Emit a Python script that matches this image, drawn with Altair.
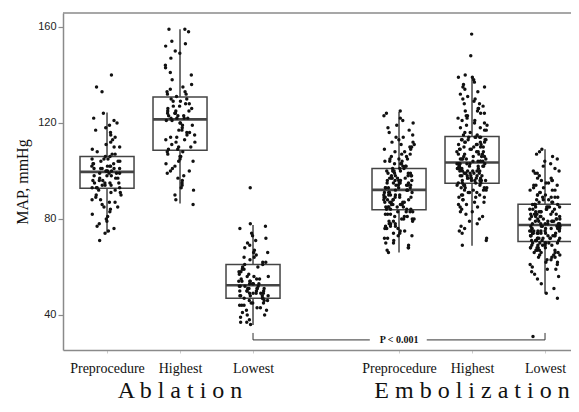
import altair as alt
import pandas as pd

# ---------------- data ----------------
group_keys = ["A_pre", "A_high", "A_low", "E_pre", "E_high", "E_low"]
group_labels = ["Preprocedure", "Highest", "Lowest", "Preprocedure", "Highest", "Lowest"]
x_pos = [1, 2, 3, 5, 6, 7]

procedure_titles = ["Ablation", "Embolization"]
procedure_pos = [2, 6]

q1 = [92.8, 108.6, 47.0, 83.8, 94.9, 70.6]
median = [99.6, 121.5, 52.4, 92.1, 103.5, 77.5]
q3 = [106.0, 130.8, 61.0, 101.0, 114.3, 86.1]
whisker_lo = [74.3, 86.4, 35.8, 66.0, 68.8, 48.9]
whisker_hi = [124.3, 159.0, 77.5, 124.6, 138.9, 109.0]

abl_pre = [71, 74, 75, 76, 77, 78, 79, 80, 81, 82, 83, 84, 85, 85, 86, 87, 87, 88, 88, 89, 90, 90, 91, 91, 92, 92,
           93, 93, 93, 94, 94, 94, 95, 95, 95, 96, 96, 96, 97, 97, 97, 98, 98, 98, 99, 99, 99, 99, 93, 95,
           100, 100, 100, 101, 101, 101, 101, 102, 102, 102, 103, 103, 103, 104, 104, 104, 105, 105, 105, 106, 106, 100, 102, 101,
           107, 107, 108, 109, 110, 110, 111, 112, 113, 114, 115, 116, 117, 118, 119, 120, 121, 122, 124,
           133, 135, 140]
abl_high = [86, 88, 90, 92, 93, 94, 95, 96, 97, 98, 99, 100, 100, 101, 102, 103, 104, 104, 105, 106, 106, 107, 108, 108,
            109, 109, 110, 110, 111, 112, 112, 113, 114, 114, 115, 116, 116, 117, 117, 118, 119, 119, 120, 120, 121, 121, 115, 113,
            122, 122, 122, 123, 123, 123, 124, 124, 125, 125, 125, 126, 126, 127, 127, 128, 128, 129, 129, 130, 130, 131, 124, 122,
            132, 132, 133, 133, 134, 135, 136, 138, 140, 141, 143, 144, 147, 149, 150, 152, 153, 154, 158, 159, 159]
abl_low = [36, 37, 37, 38, 39, 40, 40, 41, 42, 42, 43, 43, 44, 44, 44, 45, 45, 45, 46, 46, 46, 47, 47, 47,
           48, 48, 48, 48, 49, 49, 49, 49, 50, 50, 50, 50, 51, 51, 51, 51, 52, 52, 52, 52, 48, 50, 51, 49,
           53, 53, 53, 54, 54, 54, 55, 55, 55, 56, 56, 57, 57, 58, 58, 59, 59, 60, 60, 61, 61, 54, 56, 53,
           62, 62, 63, 64, 64, 65, 66, 66, 67, 68, 69, 70, 71, 72, 73, 74, 76, 77, 78, 93]
emb_pre = [66, 67, 68, 68, 69, 70, 70, 71, 72, 72, 73, 73, 74, 74, 75, 75, 76, 76, 76, 77, 77, 77, 78, 78, 78,
           79, 79, 79, 80, 80, 80, 80, 81, 81, 81, 82, 82, 82, 83, 83, 83, 83,
           84, 84, 84, 84, 85, 85, 85, 85, 85, 86, 86, 86, 86, 86, 87, 87, 87, 87, 87, 88, 88, 88, 88, 88,
           89, 89, 89, 89, 89, 90, 90, 90, 90, 90, 91, 91, 91, 91, 92, 92, 92, 92,
           93, 93, 93, 93, 93, 94, 94, 94, 94, 94, 95, 95, 95, 95, 96, 96, 96, 96, 96, 97, 97, 97, 97,
           98, 98, 98, 98, 98, 99, 99, 99, 99, 100, 100, 100, 100, 100, 101, 101, 101, 95, 97,
           102, 102, 102, 103, 103, 103, 104, 104, 104, 105, 105, 105, 106, 106, 107, 107, 108, 108, 109, 109,
           110, 110, 111, 111, 112, 112, 113, 114, 114, 115, 116, 117, 118, 119, 120, 121, 122, 123, 124, 125]
emb_high = [69, 71, 72, 74, 75, 76, 77, 78, 79, 80, 81, 82, 83, 83, 84, 85, 85, 86, 86, 87, 87, 88, 88, 89,
            89, 89, 90, 90, 90, 91, 91, 91, 92, 92, 92, 92, 93, 93, 93, 93, 94, 94, 94, 94, 95, 95, 95, 95,
            96, 96, 96, 96, 96, 96, 97, 97, 97, 97, 97, 97, 98, 98, 98, 98, 98, 98, 99, 99, 99, 99, 99, 99,
            100, 100, 100, 100, 100, 100, 101, 101, 101, 101, 101, 101, 102, 102, 102, 102, 102, 102, 103, 103, 103, 103, 103, 103,
            104, 104, 104, 104, 104, 105, 105, 105, 105, 105, 106, 106, 106, 106, 107, 107, 107, 107, 108, 108, 108, 108,
            109, 109, 109, 109, 110, 110, 110, 110, 111, 111, 111, 111, 112, 112, 112, 112, 113, 113, 113, 113, 113,
            114, 114, 114, 114, 114,
            115, 115, 116, 116, 117, 117, 118, 118, 119, 119, 120, 120, 121, 121, 122, 122, 123, 123, 124, 124,
            125, 125, 126, 126, 127, 128, 128, 129, 130, 130, 131, 132, 133, 134, 135, 135, 136, 137, 138, 139, 139, 140,
            148, 157]
emb_low = [31, 47, 49, 51, 53, 55, 56, 57, 58, 59, 60, 61, 62, 62, 63, 63, 64, 64, 65, 65, 65, 66, 66, 66,
           67, 67, 67, 67, 68, 68, 68, 68, 69, 69, 69, 69, 69, 70, 70, 70, 70, 70, 70, 64, 66, 68, 61, 59,
           71, 71, 71, 71, 71, 71, 71, 72, 72, 72, 72, 72, 72, 72, 73, 73, 73, 73, 73, 73, 73,
           74, 74, 74, 74, 74, 74, 74, 75, 75, 75, 75, 75, 75, 75, 76, 76, 76, 76, 76, 76, 76, 77, 77, 77, 77, 77, 77,
           78, 78, 78, 78, 78, 78, 79, 79, 79, 79, 79, 79, 80, 80, 80, 80, 80, 80, 81, 81, 81, 81, 81,
           82, 82, 82, 82, 82, 83, 83, 83, 83, 83, 84, 84, 84, 84, 84, 85, 85, 85, 85, 85, 86, 86, 86, 86, 86,
           87, 87, 87, 88, 88, 88, 89, 89, 89, 90, 90, 90, 91, 91, 92, 92, 93, 93, 94, 94, 95, 95, 96, 96,
           97, 97, 98, 99, 99, 100, 100, 101, 102, 103, 104, 105, 106, 107, 108, 109, 92, 94, 96, 89]

group_values = [abl_pre, abl_high, abl_low, emb_pre, emb_high, emb_low]

bracket_y = 29.6
bracket_tip = 32.5
bracket_from = 3
bracket_to = 7
p_label = "P < 0.001"
p_label_pos = 5
p_gap = [4.6, 5.38]

# ---------------- layout ----------------
W, H = 508, 337
PX_PER_UNIT = 73.0
x_domain = [0.397, 0.397 + W / PX_PER_UNIT]
y_domain = [25.4, 165.8]
y_px = H / (y_domain[1] - y_domain[0])
title_baseline_px = 385          # below the top of the plot area
title_y = y_domain[0] - (title_baseline_px - H) / y_px

# ---------------- tables ----------------
pts = pd.DataFrame(
    [{"key": k, "pos": p, "map": v} for k, p, vals in zip(group_keys, x_pos, group_values) for v in vals]
)
box = pd.DataFrame({"key": group_keys, "pos": x_pos, "q1": q1, "med": median, "q3": q3,
                    "lo": whisker_lo, "hi": whisker_hi})
segs = pd.DataFrame({
    "x": [bracket_from, p_gap[1], bracket_from, bracket_to],
    "x2": [p_gap[0], bracket_to, bracket_from, bracket_to],
    "y": [bracket_y, bracket_y, bracket_y, bracket_y],
    "y2": [bracket_y, bracket_y, bracket_tip, bracket_tip],
})
ptxt = pd.DataFrame({"x": [p_label_pos], "y": [bracket_y], "t": [p_label]})
titles = pd.DataFrame({"x": procedure_pos, "y": [title_y] * len(procedure_pos),
                       "t": [" ".join(list(s)) for s in procedure_titles]})
frame_top = pd.DataFrame({"x": [x_domain[0]], "x2": [x_domain[1] + 0.2], "y": [y_domain[1]]})

xscale = alt.Scale(domain=x_domain, nice=False, zero=False)
yscale = alt.Scale(domain=y_domain, nice=False, zero=False)
AX = "#8a8a8a"

label_expr = ""
for p, lab in zip(x_pos, group_labels):
    label_expr += f"datum.value == {p} ? '{lab}' : "
label_expr += "''"

xaxis = alt.Axis(values=x_pos, labelExpr=label_expr, grid=False, title=None,
                 domainColor=AX, domainWidth=1.5, tickColor="#cccccc", tickSize=3,
                 labelFont="Liberation Serif", labelFontSize=14, labelColor="#111111",
                 labelPadding=8, labelOverlap=False, labelFlush=False)
yaxis = alt.Axis(values=[40, 80, 120, 160], grid=False, title="MAP, mmHg",
                 domainColor=AX, domainWidth=1.5, tickColor=AX, tickSize=5, tickWidth=1.2,
                 labelFont="Liberation Sans", labelFontSize=11, labelColor="#222222", labelPadding=2,
                 titleFont="Liberation Serif", titleFontSize=16, titleFontWeight="normal",
                 titleColor="#111111", titlePadding=7)


def X(f):
    return alt.X(f, scale=xscale, axis=xaxis)


def Y(f):
    return alt.Y(f, scale=yscale, axis=yaxis)


BOX = "#444444"
base_box = alt.Chart(box).transform_calculate(xl="datum.pos - 0.37", xr="datum.pos + 0.37")

whisk_low = alt.Chart(box).mark_rule(color=BOX, strokeWidth=1.5).encode(
    x=X("pos:Q"), y=Y("lo:Q"), y2="q1:Q")
whisk_high = alt.Chart(box).mark_rule(color=BOX, strokeWidth=1.5).encode(
    x=X("pos:Q"), y=Y("q3:Q"), y2="hi:Q")
boxes = base_box.mark_rect(fill="white", stroke=BOX, strokeWidth=1.5).encode(
    x=X("xl:Q"), x2="xr:Q", y=Y("q1:Q"), y2="q3:Q")
medians = base_box.mark_rule(color=BOX, strokeWidth=2.6).encode(
    x=X("xl:Q"), x2="xr:Q", y=Y("med:Q"))

# horizontal jitter (display only): deterministic hash of the row index
points = alt.Chart(pts).transform_window(
    idx="row_number()", groupby=["key"]
).transform_calculate(
    h="abs(sin(datum.idx * 12.9898 + datum.pos * 78.233) * 43758.5453) % 1"
).transform_calculate(
    xj="datum.pos + 0.42 * (datum.h - 0.5)"
).mark_circle(size=12, color="#111111", opacity=1).encode(
    x=X("xj:Q"), y=Y("map:Q"))

bracket = alt.Chart(segs).mark_rule(color="#333333", strokeWidth=1).encode(
    x=X("x:Q"), x2="x2:Q", y=Y("y:Q"), y2="y2:Q")
ptext = alt.Chart(ptxt).mark_text(font="Liberation Serif", fontSize=10, fontWeight="bold",
                                  color="#111111", baseline="middle").encode(
    x=X("x:Q"), y=Y("y:Q"), text="t:N")

top_line = alt.Chart(frame_top).mark_rule(color=AX, strokeWidth=1.5).encode(
    x=X("x:Q"), x2="x2:Q", y=Y("y:Q"))

group_text = alt.Chart(titles).mark_text(font="Liberation Serif", fontSize=24, color="#111111",
                                         baseline="alphabetic").encode(
    x=X("x:Q"), y=Y("y:Q"), text="t:N")

chart = alt.layer(
    points, top_line, whisk_low, whisk_high, boxes, medians, bracket, ptext, group_text
).properties(
    width=W, height=H,
    autosize=alt.AutoSizeParams(type="none"),
    padding={"left": 55, "top": 5, "right": 0, "bottom": 54},
).configure_view(strokeWidth=0, stroke="transparent")

# draw points on top of the boxes
chart.layer = chart.layer[1:6] + [chart.layer[0]] + chart.layer[6:]

chart.save("out.html", embed_options={"renderer": "svg", "actions": False})
